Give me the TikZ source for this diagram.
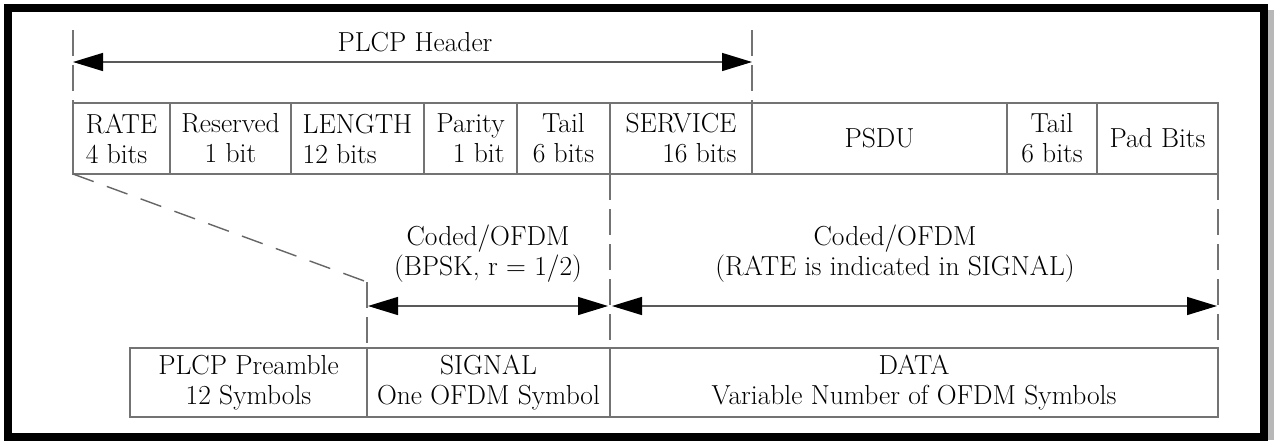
\documentclass[tikz,border=0pt]{standalone}
\usetikzlibrary{arrows.meta}
\begin{document}
\begin{tikzpicture}[x=1pt,y=-1pt,
  every node/.style={font=\rmfamily\fontsize{27.5}{30}\selectfont, text=black},
  cell/.style={draw=black!55, line width=1.6pt, inner sep=0pt, outer sep=0pt, align=center},
  toprow/.style={cell, minimum height=71pt},
  botrow/.style={cell, minimum height=69pt},
  guide/.style={draw=black!55, line width=1.4pt, dash pattern=on 26pt off 9pt},
  slant/.style={draw=black!60, line width=1.4pt, dash pattern=on 22pt off 14pt},
  span/.style={draw=black!65, line width=1.4pt,
    {Triangle[length=30pt,width=18pt,color=black]}-{Triangle[length=30pt,width=18pt,color=black]}},
]
\useasboundingbox (0,0) rectangle (1274,440);
\fill[white] (0,0) rectangle (1274,440);

% outer frame
\fill[black!28] (1267.5,10) rectangle (1274,440);
\draw[line width=8pt] (8,8) rectangle (1263.5,436.5);

% PPDU fields
\node[toprow, minimum width=97pt, align=left]  (rate)  at (121.5,138.5) {RATE\\4 bits};
\node[toprow, minimum width=121pt]             (res)   at (230.5,138.5) {Reserved\\1 bit};
\node[toprow, minimum width=133pt, align=left] (len)   at (357.5,138.5) {LENGTH\\12 bits};
\node[toprow, minimum width=93pt, align=right] (par)   at (470.5,138.5) {Parity\\1 bit};
\node[toprow, minimum width=93pt]              (tail)  at (563.5,138.5) {Tail\\6 bits};
\node[toprow, minimum width=142pt, align=right](serv)  at (681,138.5)   {SERVICE\\16 bits};
\node[toprow, minimum width=255pt]             (psdu)  at (879.5,138.5) {PSDU};
\node[toprow, minimum width=90pt]              (tailb) at (1052,138.5)  {Tail\\6 bits};
\node[toprow, minimum width=121pt]             (pad)   at (1157.5,138.5){Pad Bits};

% transmitted symbols
\node[botrow, minimum width=237pt] (pre)  at (248.5,382.5) {PLCP Preamble\\12 Symbols};
\node[botrow, minimum width=243pt] (sig)  at (488.5,382.5) {SIGNAL\\One OFDM Symbol};
\node[botrow, minimum width=608pt] (data) at (914,382.5)   {DATA\\Variable Number of OFDM Symbols};

% guide lines
\coordinate (hl) at (73,30);
\coordinate (hr) at (752,30);
\coordinate (bend) at (367,282);
\draw[guide] (hl) -- (rate.north west);
\draw[guide] (hr) -- (serv.north east);
\draw[guide] (tail.south east) -- (sig.north east);
\draw[guide] (pad.south east) -- (data.north east);
\draw[slant] (rate.south west) -- (bend);
\draw[guide] (bend) -- (sig.north west);

% span arrows
\coordinate (ha) at (73,62);
\coordinate (hb) at (752,62);
\coordinate (sa) at (367,306);
\coordinate (sb) at (610,306);
\coordinate (da) at (1218,306);
\draw[span] (ha) -- (hb);
\draw[span, shorten <=1pt, shorten >=2pt] (sa) -- (sb);
\draw[span, shorten <=2pt, shorten >=1pt] (sb) -- (da);

% labels
\node (hdr) at (415,42) {PLCP Header};
\node[align=center] (lsig) at (488,254) {Coded/OFDM\\(BPSK, r = 1/2)};
\node[align=center] (ldat) at (895,254) {Coded/OFDM\\(RATE is indicated in SIGNAL)};
\end{tikzpicture}
\end{document}
